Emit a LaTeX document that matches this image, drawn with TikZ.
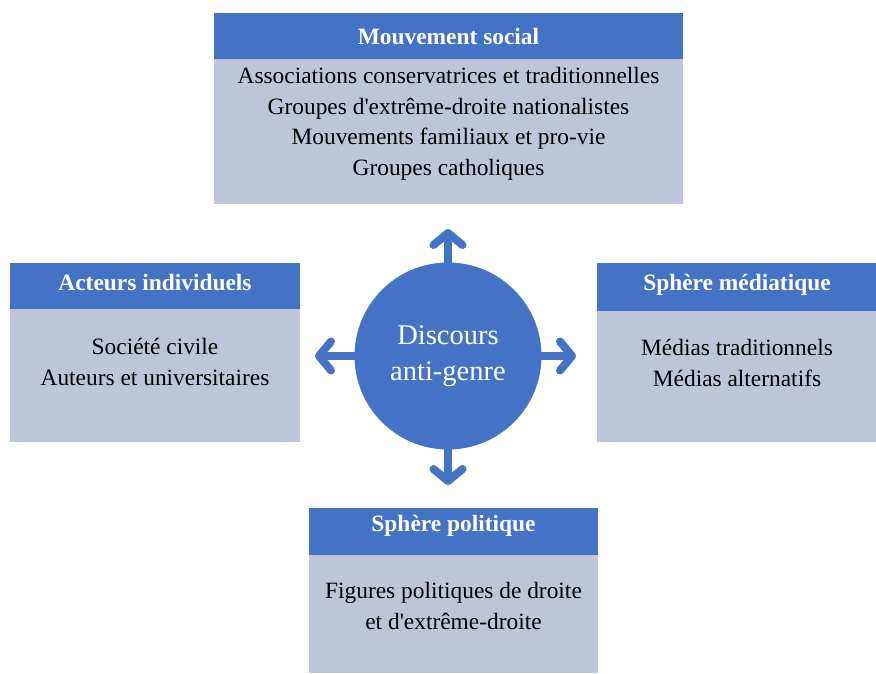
\documentclass[tikz,border=0pt]{standalone}
\usepackage{fontspec}
\setmainfont{Liberation Serif}[Ligatures=TeXOff]
\usetikzlibrary{arrows.meta}
\definecolor{hdrblue}{HTML}{4472C4}
\definecolor{bodygrey}{RGB}{191,197,217}
\begin{document}
\begin{tikzpicture}[x=1pt,y=-1pt,
  header/.style={fill=hdrblue,draw=none,inner sep=0pt,text=white,font=\fontsize{23.4}{26}\selectfont\bfseries},
  bodytext/.style={align=center,inner sep=0pt,text=black,font=\fontsize{23.4}{30.5}\selectfont},
  outarrow/.style={draw=hdrblue,line width=8pt,line cap=round,-{Straight Barb[length=12pt,width=29pt,line cap=round,round]}}
]
\useasboundingbox (0,0) rectangle (876,673);

% Mouvement social (top)
\fill[bodygrey] (214,59) rectangle (683,204);
\fill[hdrblue] (214,13) rectangle (683,59);
\node[header] (msh) at (448.5,37) {Mouvement social};
\node[bodytext] (msb) at (448.5,124) {Associations conservatrices et traditionnelles\\Groupes d'extrême-droite nationalistes\\Mouvements familiaux et pro-vie\\Groupes catholiques};

% Acteurs individuels (left)
\fill[bodygrey] (10,309) rectangle (300,442);
\fill[hdrblue] (10,263) rectangle (300,309);
\node[header] (aih) at (155,283) {Acteurs individuels};
\node[bodytext] (aib) at (155,362) {Société civile\\Auteurs et universitaires};

% Sphère médiatique (right)
\fill[bodygrey] (597,311) rectangle (876,442);
\fill[hdrblue] (597,263) rectangle (876,311);
\node[header] (smh) at (737,285) {Sphère médiatique};
\node[bodytext] (smb) at (737,363) {Médias traditionnels\\Médias alternatifs};

% Sphère politique (bottom)
\fill[bodygrey] (309,555) rectangle (598,673);
\fill[hdrblue] (309,508) rectangle (598,555);
\node[header] (sph) at (453.5,526) {Sphère politique};
\node[bodytext] (spb) at (453.5,606) {Figures politiques de droite\\et d'extrême-droite};

% Central circle with its four arrows
\node[circle,fill=hdrblue,minimum size=187pt,inner sep=0pt,text=white,align=center,
      font=\fontsize{28.5}{36}\selectfont] (core) at (448,356) {Discours\\anti-genre};
\coordinate (tipN) at (448,229);
\coordinate (tipS) at (448,485);
\coordinate (tipW) at (315,356);
\coordinate (tipE) at (576,356);
\draw[outarrow] (core.north) ++(0,4) -- (tipN);
\draw[outarrow] (core.south) ++(0,-4) -- (tipS);
\draw[outarrow] (core.west) ++(4,0) -- (tipW);
\draw[outarrow] (core.east) ++(-4,0) -- (tipE);
\end{tikzpicture}
\end{document}
